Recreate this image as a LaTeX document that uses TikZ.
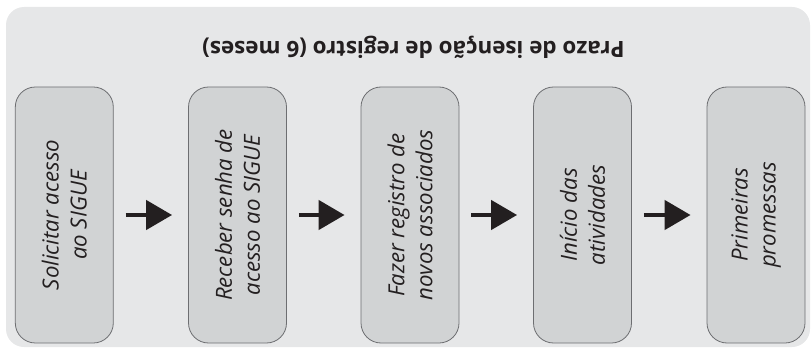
\documentclass[tikz,border=0pt]{standalone}
\usepackage{fontspec}
\setmainfont{Open Sans}
\usetikzlibrary{arrows.meta}
\definecolor{bgc}{HTML}{E6E7E8}
\definecolor{boxc}{HTML}{D1D3D4}
\definecolor{edgec}{HTML}{6D6E71}
\definecolor{inkc}{HTML}{231F20}
\tikzset{
  stepbox/.style={draw=edgec, line width=0.8pt, fill=boxc, rounded corners=20pt,
    minimum width=98pt, minimum height=256pt, inner sep=0pt},
  steptext/.style={rotate=90, align=center, text=inkc,
    font=\itshape\fontsize{22.2}{28}\selectfont},
  flowarrow/.style={draw=inkc, line width=4.5pt,
    -{Triangle[length=26pt,width=29pt]}, shorten <=12pt, shorten >=16pt}
}
\begin{document}
\begin{tikzpicture}[x=1pt,y=-1pt]
\useasboundingbox (0,0) rectangle (811,350);
\fill[bgc, rounded corners=18pt] (6,7) rectangle (810,347);
\node[rotate=180, text=inkc, font=\bfseries\fontsize{22.4}{26}\selectfont] (title) at (413.5,47.5) {Prazo de isenção de registro (6 meses)};
\node[stepbox] (b1) at (64.3,215) {};
\node[stepbox] (b2) at (237.5,215) {};
\node[stepbox] (b3) at (410,215) {};
\node[stepbox] (b4) at (582.5,215) {};
\node[stepbox] (b5) at (756,215) {};
\node[steptext] (t1) at (b1) {Solicitar acesso\\ao SIGUE};
\node[steptext] (t2) at (b2) {Receber senha de\\acesso ao SIGUE};
\node[steptext] (t3) at (b3) {Fazer registro de\\novos associados};
\node[steptext] (t4) at (b4) {Início das\\atividades};
\node[steptext] (t5) at (b5) {Primeiras\\promessas};
\draw[flowarrow] (b1) -- (b2);
\draw[flowarrow] (b2) -- (b3);
\draw[flowarrow] (b3) -- (b4);
\draw[flowarrow] (b4) -- (b5);
\end{tikzpicture}
\end{document}
